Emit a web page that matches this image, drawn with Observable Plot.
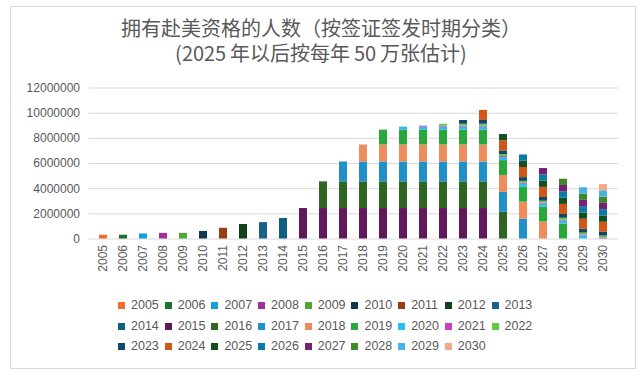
<!DOCTYPE html>
<html>
<head>
<meta charset="utf-8">
<script src="https://cdn.jsdelivr.net/npm/d3@7"></script>
<script src="https://cdn.jsdelivr.net/npm/@observablehq/plot@0.6"></script>
<style>
  @font-face {
    font-family: "TitleCJK";
    src: local("Noto Sans CJK SC"), local("Noto Sans CJK SC Regular"), local("NotoSansCJKsc-Regular");
    ascent-override: 100%;
    descent-override: 20%;
    line-gap-override: 0%;
  }
  body { margin: 0; background: #fff; }
  #wrap { position: relative; width: 642px; height: 377px; overflow: hidden; font-family: "Liberation Sans", Arial, "Noto Sans CJK SC", sans-serif; }
  #frame { position: absolute; left: 10px; top: 6px; width: 626px; height: 363px; border: 1px solid #d9d9d9; box-sizing: border-box; }
  #title { position: absolute; left: 0; top: 16px; width: 642px; text-align: center; color: #595959; font-size: 20px; line-height: 25px; font-family: "TitleCJK", "Noto Sans CJK SC", sans-serif; white-space: nowrap; }
  #chart { position: absolute; left: 0; top: 0; }
  #legend { position: absolute; left: 118px; top: 295px; width: 440px; font-size: 12.5px; color: #595959; }
  .item { display: inline-block; width: 46.7px; height: 20.5px; line-height: 20.5px; white-space: nowrap; vertical-align: top; }
  .sw { display: inline-block; width: 7px; height: 7px; margin-right: 6px; vertical-align: 0px; }
</style>
</head>
<body>
<div id="wrap">
  <div id="frame"></div>
  <div id="title">拥有赴美资格的人数（按签证签发时期分类）<br>(2025 年以后按每年 50 万张估计)</div>
  <div id="chart"></div>
  <div id="legend"></div>
</div>
<script>
// Bar categories (x axis)
const years = ["2005","2006","2007","2008","2009","2010","2011","2012","2013","2014","2015","2016","2017","2018","2019","2020","2021","2022","2023","2024","2025","2026","2027","2028","2029","2030"];
// Series names (visa issuance year)
const seriesNames = years.slice();
const UNIT = 1000000; // values below in millions
// Each series: value in each bar year 2005..2030 (millions)
const s2005 = [0.30,0,0,0,0,0,0,0,0,0,0,0,0,0,0,0,0,0,0,0,0,0,0,0,0,0];
const s2006 = [0,0.30,0,0,0,0,0,0,0,0,0,0,0,0,0,0,0,0,0,0,0,0,0,0,0,0];
const s2007 = [0,0,0.40,0,0,0,0,0,0,0,0,0,0,0,0,0,0,0,0,0,0,0,0,0,0,0];
const s2008 = [0,0,0,0.45,0,0,0,0,0,0,0,0,0,0,0,0,0,0,0,0,0,0,0,0,0,0];
const s2009 = [0,0,0,0,0.45,0,0,0,0,0,0,0,0,0,0,0,0,0,0,0,0,0,0,0,0,0];
const s2010 = [0,0,0,0,0,0.60,0,0,0,0,0,0,0,0,0,0,0,0,0,0,0,0,0,0,0,0];
const s2011 = [0,0,0,0,0,0,0.85,0,0,0,0,0,0,0,0,0,0,0,0,0,0,0,0,0,0,0];
const s2012 = [0,0,0,0,0,0,0,1.15,0,0,0,0,0,0,0,0,0,0,0,0,0,0,0,0,0,0];
const s2013 = [0,0,0,0,0,0,0,0,1.30,0,0,0,0,0,0,0,0,0,0,0,0,0,0,0,0,0];
const s2014 = [0,0,0,0,0,0,0,0,0,1.63,0,0,0,0,0,0,0,0,0,0,0,0,0,0,0,0];
const s2015 = [0,0,0,0,0,0,0,0,0,0,2.42,2.42,2.42,2.42,2.42,2.42,2.42,2.42,2.42,2.42,0,0,0,0,0,0];
const s2016 = [0,0,0,0,0,0,0,0,0,0,0,2.12,2.12,2.12,2.12,2.12,2.12,2.12,2.12,2.12,2.12,0,0,0,0,0];
const s2017 = [0,0,0,0,0,0,0,0,0,0,0,0,1.58,1.58,1.58,1.58,1.58,1.58,1.58,1.58,1.58,1.58,0,0,0,0];
const s2018 = [0,0,0,0,0,0,0,0,0,0,0,0,0,1.35,1.35,1.35,1.35,1.35,1.35,1.35,1.35,1.35,1.35,0,0,0];
const s2019 = [0,0,0,0,0,0,0,0,0,0,0,0,0,0,1.18,1.18,1.18,1.18,1.18,1.18,1.18,1.18,1.18,1.18,0,0];
const s2020 = [0,0,0,0,0,0,0,0,0,0,0,0,0,0,0,0.24,0.24,0.24,0.24,0.24,0.24,0.24,0.24,0.24,0.24,0];
const s2021 = [0,0,0,0,0,0,0,0,0,0,0,0,0,0,0,0,0.08,0.08,0.08,0.08,0.08,0.08,0.08,0.08,0.08,0.08];
const s2022 = [0,0,0,0,0,0,0,0,0,0,0,0,0,0,0,0,0,0.15,0.15,0.15,0.15,0.15,0.15,0.15,0.15,0.15];
const s2023 = [0,0,0,0,0,0,0,0,0,0,0,0,0,0,0,0,0,0,0.30,0.30,0.30,0.30,0.30,0.30,0.30,0.30];
const s2024 = [0,0,0,0,0,0,0,0,0,0,0,0,0,0,0,0,0,0,0,0.80,0.80,0.80,0.80,0.80,0.80,0.80];
const s2025 = [0,0,0,0,0,0,0,0,0,0,0,0,0,0,0,0,0,0,0,0,0.50,0.50,0.50,0.50,0.50,0.50];
const s2026 = [0,0,0,0,0,0,0,0,0,0,0,0,0,0,0,0,0,0,0,0,0,0.50,0.50,0.50,0.50,0.50];
const s2027 = [0,0,0,0,0,0,0,0,0,0,0,0,0,0,0,0,0,0,0,0,0,0,0.50,0.50,0.50,0.50];
const s2028 = [0,0,0,0,0,0,0,0,0,0,0,0,0,0,0,0,0,0,0,0,0,0,0,0.50,0.50,0.50];
const s2029 = [0,0,0,0,0,0,0,0,0,0,0,0,0,0,0,0,0,0,0,0,0,0,0,0,0.50,0.50];
const s2030 = [0,0,0,0,0,0,0,0,0,0,0,0,0,0,0,0,0,0,0,0,0,0,0,0,0,0.50];
const seriesValues = [s2005,s2006,s2007,s2008,s2009,s2010,s2011,s2012,s2013,s2014,s2015,s2016,s2017,s2018,s2019,s2020,s2021,s2022,s2023,s2024,s2025,s2026,s2027,s2028,s2029,s2030];
const colors = ["#ed7032","#1b7230","#12a0dc","#a0309a","#4ea832","#10384f","#983e12","#11401a","#1a6088",
                "#0e5f80","#60195a","#2e6520","#2090c8","#ef8c5c","#28a83a","#2cbcf0","#cc40c0","#62c844",
                "#104a6a","#d25616","#125020","#0c7aa8","#7a1f78","#3c8a28","#48b2e0","#f2aa84"];
const yTicks = [0,2000000,4000000,6000000,8000000,10000000,12000000];

const rows = [];
seriesNames.forEach((s, i) => {
  years.forEach((y, j) => {
    const v = seriesValues[i][j];
    if (v > 0) rows.push({series: s, year: y, value: v * UNIT});
  });
});

const chart = Plot.plot({
  width: 642,
  height: 295,
  marginTop: 87.5,
  marginBottom: 56.5,
  marginLeft: 88.5,
  marginRight: 24,
  style: {fontFamily: "'Liberation Sans', Arial, sans-serif", fontSize: "12px", color: "#595959", background: "transparent", overflow: "visible"},
  x: {domain: years, paddingInner: 0.6, paddingOuter: 0.3},
  y: {domain: [0, 12000000]},
  color: {domain: seriesNames, range: colors},
  marks: [
    Plot.gridY(yTicks, {stroke: "#d9d9d9", strokeOpacity: 1, strokeWidth: 1}),
    Plot.barY(rows, {x: "year", y: "value", fill: "series", order: seriesNames}),
    Plot.axisY(yTicks, {tickSize: 0, tickPadding: 9, tickFormat: d3.format("d"), label: null, fontSize: 12}),
    Plot.axisX({tickSize: 0, tickPadding: 6, tickRotate: -90, label: null, fontSize: 12})
  ]
});
document.getElementById("chart").appendChild(chart);

const legend = d3.select("#legend");
seriesNames.forEach((s, i) => {
  const it = legend.append("div").attr("class", "item");
  it.append("span").attr("class", "sw").style("background", colors[i]);
  it.append("span").text(s);
});
</script>
</body>
</html>
